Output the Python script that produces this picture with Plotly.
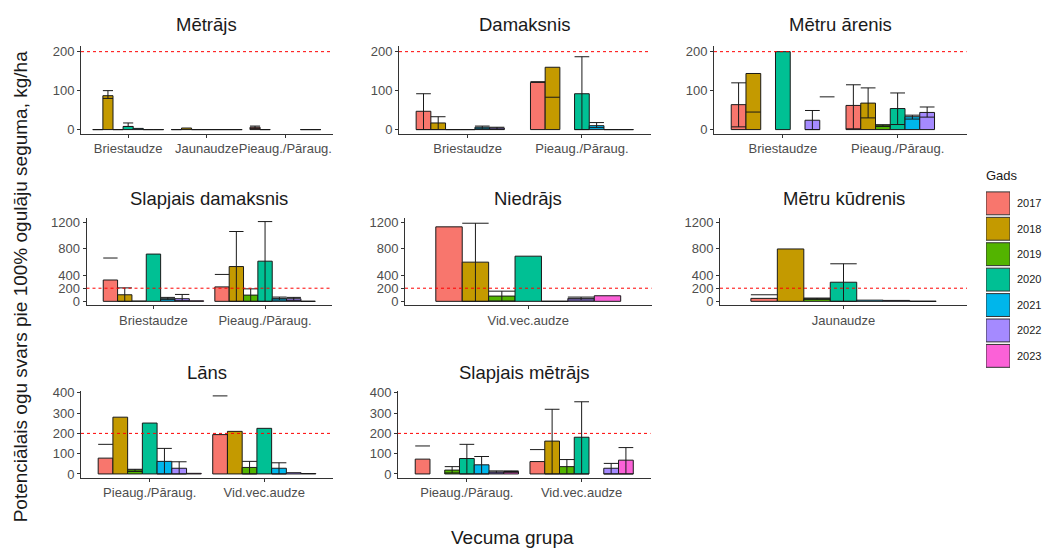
import plotly.graph_objects as go

# ---------------- data ----------------
YEARS = ["2017", "2018", "2019", "2020", "2021", "2022", "2023"]
COLORS = ["#F8766D", "#C49A00", "#53B400", "#00C094", "#00B6EB", "#A58AFF", "#FB61D7"]
N = None
HLINE = 200

METRAJS_GROUPS = ["Briestaudze", "Jaunaudze", "Pieaug./Pāraug."]
METRAJS_VALUES = [[0, 87, 0, 8, 3, 0, 0],
                  [0, 4, 0, 0, 0, 0, 0],
                  [6, 0, N, N, N, 0, 0]]
METRAJS_ERR_LO = [[N, 80, N, 8, N, N, N],
                  [N, N, N, N, N, N, N],
                  [3, N, N, N, N, N, N]]
METRAJS_ERR_HI = [[N, 100, N, 17, N, N, N],
                  [N, N, N, N, N, N, N],
                  [9, N, N, N, N, N, N]]

DAMAKSNIS_GROUPS = ["Briestaudze", "Pieaug./Pāraug."]
DAMAKSNIS_VALUES = [[47, 17, 0, 0, 6, 4, N],
                    [121, 160, N, 92, 10, 0, 0]]
DAMAKSNIS_ERR_LO = [[0, 0, N, N, 2, 1, N],
                    [123, 83, N, 0, 5, N, N]]
DAMAKSNIS_ERR_HI = [[92, 33, N, N, 9, 6, N],
                    [123, 83, N, 187, 18, N, N]]

ARENIS_GROUPS = ["Briestaudze", "Pieaug./Pāraug."]
ARENIS_VALUES = [[64, 144, N, 200, N, 24, N],
                 [62, 68, 12, 54, 33, 44, N]]
ARENIS_ERR_LO = [[7, 45, N, N, N, 0, 84],
                 [2, 30, 8, 13, 27, 32, N]]
ARENIS_ERR_HI = [[120, 45, N, N, N, 49, 84],
                 [115, 107, 12, 94, 37, 58, N]]

SL_DAMAKSNIS_GROUPS = ["Briestaudze", "Pieaug./Pāraug."]
SL_DAMAKSNIS_VALUES = [[325, 100, 5, 720, 40, 40, 8],
                       [220, 530, 95, 612, 45, 40, 0]]
SL_DAMAKSNIS_ERR_LO = [[660, 0, N, N, 25, 10, N],
                       [410, 0, 0, 0, 20, 15, N]]
SL_DAMAKSNIS_ERR_HI = [[660, 205, N, N, 60, 105, N],
                       [410, 1064, 190, 1215, 65, 60, N]]

NIEDRAJS_GROUPS = ["Vid.vec.audze"]
NIEDRAJS_VALUES = [[1135, 597, 80, 688, 0, 45, 85]]
NIEDRAJS_ERR_LO = [[N, 0, 5, N, N, 20, N]]
NIEDRAJS_ERR_HI = [[N, 1190, 155, N, N, 65, N]]

KUDRENIS_GROUPS = ["Jaunaudze"]
KUDRENIS_VALUES = [[45, 798, 40, 291, 18, 14, 0]]
KUDRENIS_ERR_LO = [[100, N, 30, 0, N, N, N]]
KUDRENIS_ERR_HI = [[100, N, 50, 572, N, N, N]]

LANS_GROUPS = ["Pieaug./Pāraug.", "Vid.vec.audze"]
LANS_VALUES = [[78, 280, 20, 251, 62, 28, 3],
               [194, 210, 32, 225, 28, 6, 2]]
LANS_ERR_LO = [[146, N, 12, N, 0, 0, N],
               [385, N, 0, N, 0, N, N]]
LANS_ERR_HI = [[146, N, 23, N, 126, 60, N],
               [385, N, 62, N, 55, N, N]]

SL_METRAJS_GROUPS = ["Pieaug./Pāraug.", "Vid.vec.audze"]
SL_METRAJS_VALUES = [[73, N, 19, 76, 45, 10, 12],
                     [61, 162, 36, 181, N, 28, 68]]
SL_METRAJS_ERR_LO = [[138, N, 5, 0, 0, 5, 8],
                     [120, 0, 0, 0, N, 0, 0]]
SL_METRAJS_ERR_HI = [[138, N, 36, 146, 86, 15, 15],
                     [120, 319, 71, 356, N, 52, 130]]

PANEL_TITLES = ["Mētrājs", "Damaksnis", "Mētru ārenis",
                "Slapjais damaksnis", "Niedrājs", "Mētru kūdrenis",
                "Lāns", "Slapjais mētrājs"]
X_TITLE = "Vecuma grupa"
Y_TITLE = "Potenciālais ogu svars pie 100% ogulāju seguma, kg/ha"
LEGEND_TITLE = "Gads"

ROW_Y_RANGES = [[-10.25, 215], [-61, 1270], [-19.5, 410]]
ROW_Y_TICKS = [[0, 100, 200], [0, 200, 400, 800, 1200], [0, 100, 200, 300, 400]]

# ---------------- layout geometry (pixels) ----------------
W_PX, H_PX = 1049, 554
ROW_TOP_BOTTOM = [(41.5, 130.7), (216.5, 305.3), (392.2, 480.7)]
ROW_COLS = [[(81, 332.5), (399, 650.5), (714, 966.5)],
            [(86.5, 332), (405, 651.5), (720, 967)],
            [(81, 333), (398, 650.5)]]
TITLE_Y = [19.5, 196.5, 373.5]

FONT = "Liberation Sans, Arial, sans-serif"


def fx(px):
    return px / W_PX


def fy(px):
    return 1 - px / H_PX


def axid(n):
    return "" if n == 1 else str(n)


PANELS = [
    (METRAJS_GROUPS, METRAJS_VALUES, METRAJS_ERR_LO, METRAJS_ERR_HI),
    (DAMAKSNIS_GROUPS, DAMAKSNIS_VALUES, DAMAKSNIS_ERR_LO, DAMAKSNIS_ERR_HI),
    (ARENIS_GROUPS, ARENIS_VALUES, ARENIS_ERR_LO, ARENIS_ERR_HI),
    (SL_DAMAKSNIS_GROUPS, SL_DAMAKSNIS_VALUES, SL_DAMAKSNIS_ERR_LO, SL_DAMAKSNIS_ERR_HI),
    (NIEDRAJS_GROUPS, NIEDRAJS_VALUES, NIEDRAJS_ERR_LO, NIEDRAJS_ERR_HI),
    (KUDRENIS_GROUPS, KUDRENIS_VALUES, KUDRENIS_ERR_LO, KUDRENIS_ERR_HI),
    (LANS_GROUPS, LANS_VALUES, LANS_ERR_LO, LANS_ERR_HI),
    (SL_METRAJS_GROUPS, SL_METRAJS_VALUES, SL_METRAJS_ERR_LO, SL_METRAJS_ERR_HI),
]

NY = len(YEARS)
BW = 0.9 / NY  # dodge width per year

fig = go.Figure()
layout_axes = {}
shapes = []
annotations = []

for k, (groups, values, err_lo, err_hi) in enumerate(PANELS):
    row, col = divmod(k, 3)
    a = axid(k + 1)
    xref, yref = f"x{a}", f"y{a}"
    xpos = [g + 1 for g in range(len(groups))]

    for i, year in enumerate(YEARS):
        fig.add_trace(go.Bar(
            x=xpos, y=[values[g][i] for g in range(len(groups))],
            width=BW, offset=-0.45 + i * BW,
            marker=dict(color=COLORS[i], line=dict(color="#1a1a1a", width=1)),
            name=year, showlegend=False, xaxis=xref, yaxis=yref,
            hovertemplate=f"{year}: %{{y}}<extra></extra>"))

    # error bars and zero-height bar outlines
    sx, sy = [], []
    for g in range(len(groups)):
        for i in range(NY):
            xc = xpos[g] - 0.45 + (i + 0.5) * BW
            x0, x1 = xc - BW / 2, xc + BW / 2
            v = values[g][i]
            if v == 0:
                sx += [x0, x1, None]
                sy += [0, 0, None]
            lo, hi = err_lo[g][i], err_hi[g][i]
            if lo is not None and hi is not None:
                sx += [x0, x1, None]
                sy += [hi, hi, None]
                if hi != lo:
                    sx += [xc, xc, None, x0, x1, None]
                    sy += [lo, hi, None, lo, lo, None]
    fig.add_trace(go.Scatter(x=sx, y=sy, mode="lines",
                             line=dict(color="#1a1a1a", width=1),
                             showlegend=False, hoverinfo="skip",
                             xaxis=xref, yaxis=yref))

    x0px, x1px = ROW_COLS[row][col]
    top, bot = ROW_TOP_BOTTOM[row]
    axis_common = dict(showline=True, linecolor="#333333", linewidth=1,
                       ticks="outside", ticklen=3, tickcolor="#333333",
                       showgrid=False, zeroline=False,
                       tickfont=dict(family=FONT, size=13, color="#4D4D4D"))
    layout_axes[f"xaxis{a}"] = dict(
        domain=[fx(x0px), fx(x1px)], anchor=yref,
        range=[0.4, len(groups) + 0.6], tickvals=xpos, ticktext=groups,
        tickangle=0, **axis_common)
    layout_axes[f"yaxis{a}"] = dict(
        domain=[fy(bot), fy(top)], anchor=xref,
        range=ROW_Y_RANGES[row], tickvals=ROW_Y_TICKS[row], **axis_common)

    shapes.append(dict(type="line", xref=f"{xref} domain", yref=yref,
                       x0=0, x1=1, y0=HLINE, y1=HLINE, layer="above",
                       line=dict(color="#FF0000", width=1, dash="3px,3px")))
    annotations.append(dict(text=PANEL_TITLES[k], xref="paper", yref="paper",
                            x=fx((x0px + x1px) / 2), y=fy(TITLE_Y[row]),
                            xanchor="center", yanchor="middle", showarrow=False,
                            font=dict(family=FONT, size=18.5, color="#1a1a1a")))

# legend built as a small key panel
LEG = 9
fig.add_trace(go.Bar(
    y=YEARS, x=[1] * NY, orientation="h", width=0.9,
    marker=dict(color=COLORS, line=dict(color="#333333", width=1)),
    showlegend=False, hoverinfo="skip", xaxis=f"x{LEG}", yaxis=f"y{LEG}"))
layout_axes[f"xaxis{LEG}"] = dict(domain=[fx(986), fx(1010)], anchor=f"y{LEG}",
                                  range=[0, 1], visible=False, fixedrange=True)
layout_axes[f"yaxis{LEG}"] = dict(domain=[fy(369.6), fy(188.7)], anchor=f"x{LEG}",
                                  type="category", autorange="reversed", side="right",
                                  showline=False, showgrid=False, zeroline=False,
                                  ticks="", ticklabelstandoff=6, fixedrange=True,
                                  tickfont=dict(family=FONT, size=11, color="#1a1a1a"))
annotations.append(dict(text=LEGEND_TITLE, xref="paper", yref="paper",
                        x=fx(984), y=fy(173), xanchor="left", yanchor="middle",
                        showarrow=False, font=dict(family=FONT, size=13, color="#1a1a1a")))

annotations.append(dict(text=X_TITLE, xref="paper", yref="paper",
                        x=fx(512), y=fy(541), xanchor="center", yanchor="middle",
                        showarrow=False, font=dict(family=FONT, size=19, color="#1a1a1a")))
annotations.append(dict(text=Y_TITLE, xref="paper", yref="paper",
                        x=fx(20), y=fy(286), xanchor="center", yanchor="middle",
                        textangle=-90, showarrow=False,
                        font=dict(family=FONT, size=19, color="#1a1a1a")))

fig.update_layout(
    width=W_PX, height=H_PX, autosize=False,
    margin=dict(l=0, r=0, t=0, b=0),
    paper_bgcolor="white", plot_bgcolor="white",
    barmode="overlay", showlegend=False,
    shapes=shapes, annotations=annotations,
    font=dict(family=FONT),
    **layout_axes)

fig.write_html("out.html",
               config={"displayModeBar": False},
               post_script="document.body.style.margin='0';"
                           "document.body.style.overflow='hidden';")
